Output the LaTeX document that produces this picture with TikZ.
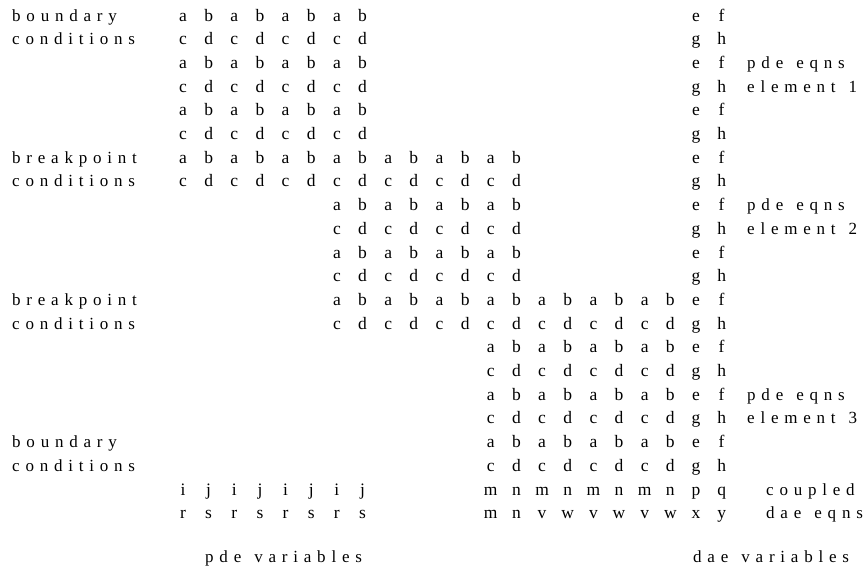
\documentclass[tikz,border=0pt]{standalone}
\usepackage{fontspec}
\setmainfont{Liberation Serif}
\newfontfamily\spacedfont[LetterSpace=34, WordSpace=1.3]{Liberation Serif}

\begin{document}
\begin{tikzpicture}[
    x=1pt, y=-1pt,
    entry/.style={anchor=base, inner sep=0pt, font=\fontsize{17.5}{17.5}\selectfont},
    note/.style={anchor=base west, inner sep=0pt, font=\spacedfont\fontsize{17}{17}\selectfont}
]
    \useasboundingbox (0,0) rectangle (868,576);

    % pde element blocks (row / first column / last column)
    \foreach \r/\first/\last in {1/1/8, 2/1/8, 3/1/8, 4/1/8, 5/1/8, 6/1/8,
        7/1/14, 8/1/14, 9/7/14, 10/7/14, 11/7/14, 12/7/14,
        13/7/20, 14/7/20, 15/13/20, 16/13/20, 17/13/20, 18/13/20, 19/13/20, 20/13/20} {
        \foreach \c in {\first,...,\last} {
            \ifodd\r \ifodd\c \def\sym{a}\else\def\sym{b}\fi
            \else \ifodd\c \def\sym{c}\else\def\sym{d}\fi \fi
            \node[entry] (m-\r-\c) at ({157.35+25.65*\c}, {-2.7+23.7*\r}) {\sym};
        }
        % dae variable columns
        \ifodd\r \def\left{e}\def\right{f}\else\def\left{g}\def\right{h}\fi
        \node[entry] (m-\r-21) at ({157.35+25.65*21}, {-2.7+23.7*\r}) {\left};
        \node[entry] (m-\r-22) at ({157.35+25.65*22}, {-2.7+23.7*\r}) {\right};
    }

    % coupled dae rows
    \foreach \sym [count=\c] in {i,j,i,j,i,j,i,j}
        \node[entry] (m-21-\c) at ({157.35+25.65*\c}, 495) {\sym};
    \foreach \sym [count=\c from 13] in {m,n,m,n,m,n,m,n,p,q}
        \node[entry] (m-21-\c) at ({157.35+25.65*\c}, 495) {\sym};
    \foreach \sym [count=\c] in {r,s,r,s,r,s,r,s}
        \node[entry] (m-22-\c) at ({157.35+25.65*\c}, 518.7) {\sym};
    \foreach \sym [count=\c from 13] in {m,n,v,w,v,w,v,w,x,y}
        \node[entry] (m-22-\c) at ({157.35+25.65*\c}, 518.7) {\sym};

    % left labels
    \node[note] (bnd1) at (12, 21) {boundary};
    \node[note] (cnd1) at (12, 44.7) {conditions};
    \node[note] (brk1) at (12, 163.2) {breakpoint};
    \node[note] (cnd2) at (12, 186.9) {conditions};
    \node[note] (brk2) at (12, 305.4) {breakpoint};
    \node[note] (cnd3) at (12, 329.1) {conditions};
    \node[note] (bnd2) at (12, 447.6) {boundary};
    \node[note] (cnd4) at (12, 471.3) {conditions};

    % right labels
    \node[note] (eq1) at (747, 68.4) {pde eqns};
    \node[note] (el1) at (747, 92.1) {element 1};
    \node[note] (eq2) at (747, 210.6) {pde eqns};
    \node[note] (el2) at (747, 234.3) {element 2};
    \node[note] (eq3) at (747, 400.2) {pde eqns};
    \node[note] (el3) at (747, 423.9) {element 3};
    \node[note] (cpl) at (766, 495) {coupled};
    \node[note] (dae) at (766, 518.7) {dae eqns};

    % variable labels
    \node[note] (pdevar) at (205, 562) {pde variables};
    \node[note] (daevar) at (693, 562) {dae variables};
\end{tikzpicture}
\end{document}
